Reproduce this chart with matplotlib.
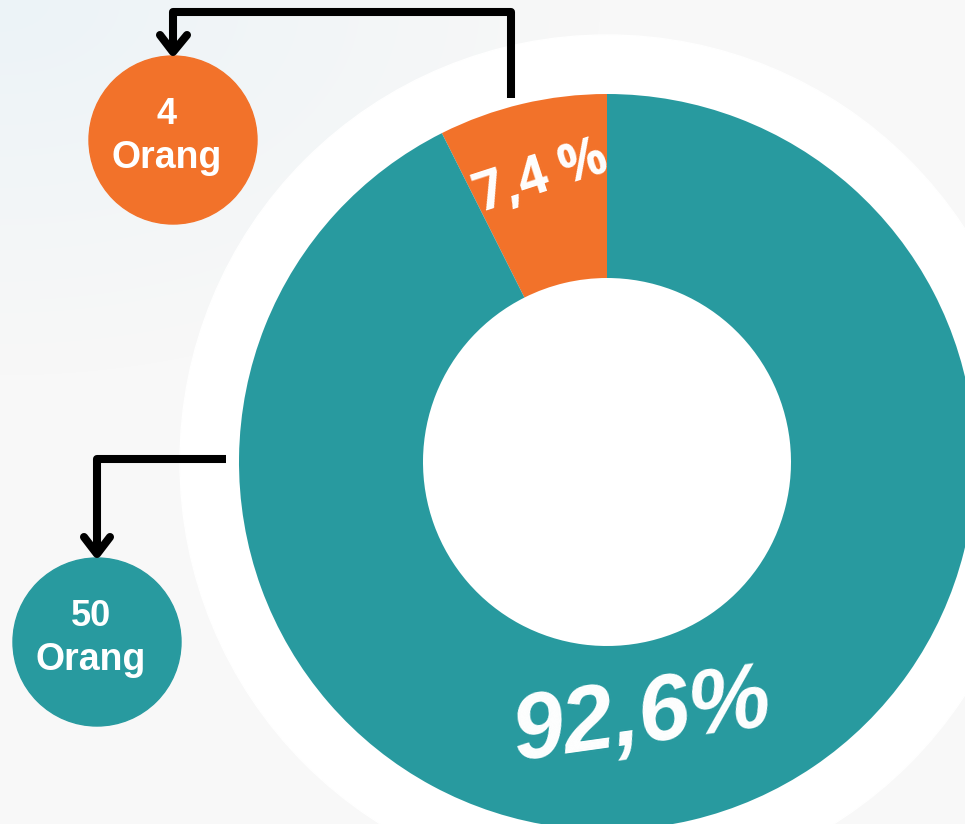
import matplotlib.pyplot as plt
import numpy as np
from matplotlib.patches import Circle

# data
groups = ['minor', 'major']
counts = [4, 50]
unit = 'Orang'
colors = ['#F2722A', '#289A9F']
pct_fmt = ['{} %', '{}%']

total = sum(counts)
pct = [f'{c / total * 100:.1f}'.replace('.', ',') for c in counts]

W, H = 965, 824
fig = plt.figure(figsize=(W / 100, H / 100), dpi=100)
ax = fig.add_axes([0, 0, 1, 1])

# soft background, a little bluish in the top left corner
yy, xx = np.mgrid[0:H, 0:W]
d = np.hypot(xx, yy * 1.6)
t = np.clip(1 - d / 600, 0, 1)[..., None]
base = np.array([248, 248, 248]) / 255
tint = np.array([236, 243, 247]) / 255
bg = base * (1 - t) + tint * t
ax.imshow(bg, extent=(0, W, 0, H), origin='upper', zorder=0)

cx, cy = 607, H - 462
ax.add_patch(Circle((cx, cy), 427, color='white', zorder=1))

wedges, _ = ax.pie(counts, colors=colors, startangle=90, counterclock=True,
                   center=(cx, cy), radius=368,
                   wedgeprops=dict(width=184, linewidth=0))
for w in wedges:
    w.set_zorder(2)

# percent labels on the ring
ax.text(541, H - 178, pct_fmt[0].format(pct[0]), color='white', fontsize=38,
        fontweight='bold', family='Open Sans', rotation=18,
        ha='center', va='center', zorder=3)
ax.text(642, H - 718, pct_fmt[1].format(pct[1]), color='white', fontsize=66,
        fontweight='bold', style='italic', family='Liberation Sans', rotation=8,
        ha='center', va='center', zorder=3)

# bubbles with counts
bubbles = [(173, H - 140), (97, H - 642)]
for (bx, by), c, col in zip(bubbles, counts, colors):
    ax.add_patch(Circle((bx, by), 84, color=col, zorder=2))
    ax.text(bx - 6, by + 26, str(c), color='white', fontsize=26, fontweight='bold',
            family='Liberation Sans', ha='center', va='center', zorder=3)
    ax.text(bx - 6, by - 18, unit, color='white', fontsize=27, fontweight='bold',
            family='Liberation Sans', ha='center', va='center', zorder=3)

# connector arrows
lw = 5.8
ax.plot([511, 511, 173, 173], [H - 98, H - 12, H - 12, H - 50], color='black', lw=lw,
        solid_joinstyle='round', solid_capstyle='butt', zorder=4)
ax.plot([160, 173, 187], [H - 35, H - 52, H - 35], color='black', lw=lw,
        solid_joinstyle='round', solid_capstyle='round', zorder=4)
ax.plot([226, 97, 97], [H - 459, H - 459, H - 551], color='black', lw=lw,
        solid_joinstyle='round', solid_capstyle='butt', zorder=4)
ax.plot([84, 97, 110], [H - 537, H - 554, H - 537], color='black', lw=lw,
        solid_joinstyle='round', solid_capstyle='round', zorder=4)

ax.set_xlim(0, W)
ax.set_ylim(0, H)
ax.set_aspect('equal')
ax.axis('off')

fig.savefig('out.png', dpi=100)
